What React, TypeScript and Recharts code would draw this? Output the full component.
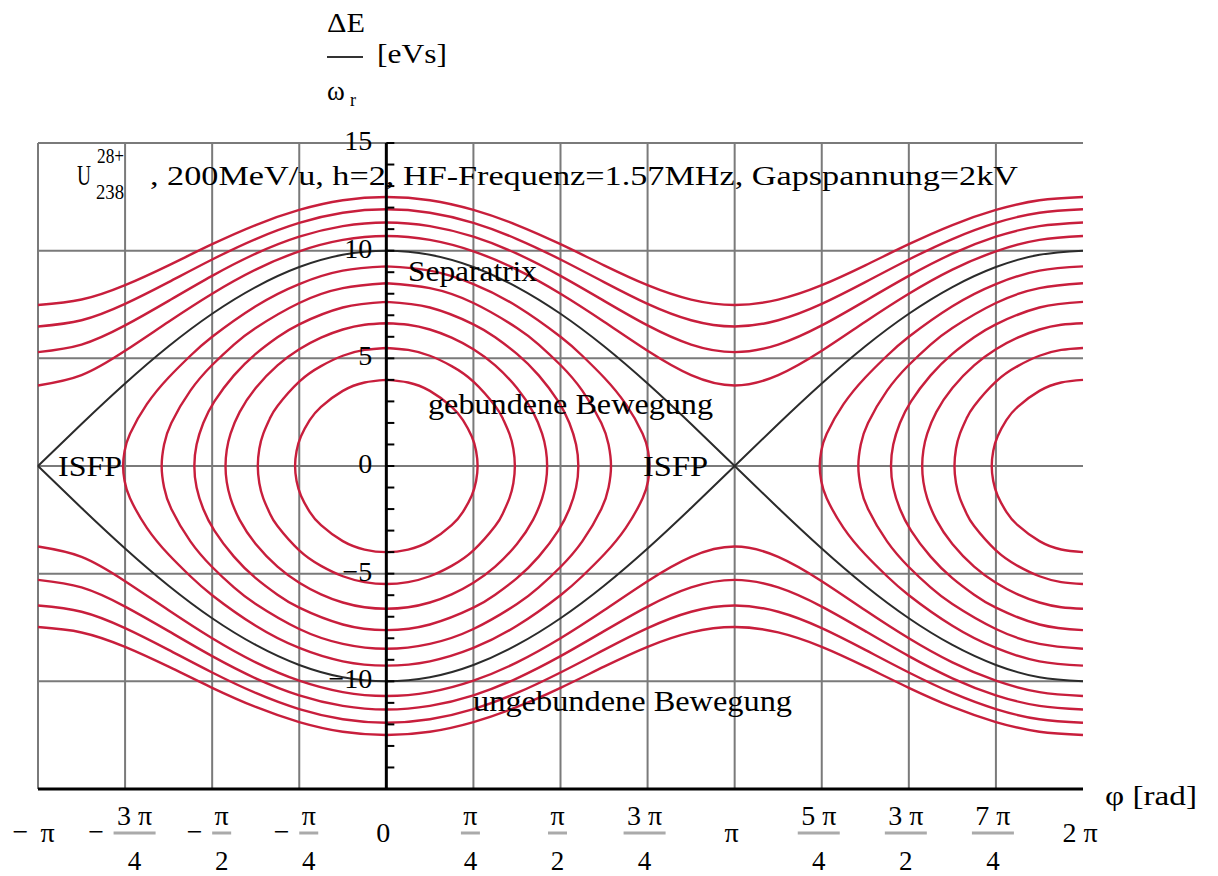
import React from "react"
import { ComposedChart, Line, Scatter, XAxis, YAxis, CartesianGrid, ReferenceLine, ReferenceDot } from "recharts"

// phase axis in units of pi
const phi = [
  -1, -0.875, -0.75, -0.625, -0.5, -0.375, -0.25, -0.125, 0,
  0.125, 0.25, 0.375, 0.5, 0.625, 0.75, 0.875, 1,
  1.125, 1.25, 1.375, 1.5, 1.625, 1.75, 1.875, 2,
]

const separatrix = [0, 1.95, 3.83, 5.56, 7.07, 8.31, 9.24, 9.81, 10, 9.81, 9.24, 8.31, 7.07, 5.56, 3.83, 1.95, 0, -1.95, -3.83, -5.56, -7.07, -8.31, -9.24, -9.81, -10]

// unbound orbits (upper branch), read at phi steps of pi/8
const unbound1 = [3.74, 4.22, 5.35, 6.7, 8.0, 9.12, 9.97, 10.5, 10.68, 10.5, 9.97, 9.12, 8.0, 6.7, 5.35, 4.22, 3.74, 4.22, 5.35, 6.7, 8.0, 9.12, 9.97, 10.5, 10.68]
const unbound2 = [5.29, 5.64, 6.53, 7.67, 8.83, 9.86, 10.65, 11.14, 11.31, 11.14, 10.65, 9.86, 8.83, 7.67, 6.53, 5.64, 5.29, 5.64, 6.53, 7.67, 8.83, 9.86, 10.65, 11.14, 11.31]
const unbound3 = [6.48, 6.77, 7.53, 8.54, 9.59, 10.54, 11.29, 11.76, 11.92, 11.76, 11.29, 10.54, 9.59, 8.54, 7.53, 6.77, 6.48, 6.77, 7.53, 8.54, 9.59, 10.54, 11.29, 11.76, 11.92]
const unbound4 = [7.48, 7.73, 8.4, 9.32, 10.3, 11.19, 11.89, 12.34, 12.49, 12.34, 11.89, 11.19, 10.3, 9.32, 8.4, 7.73, 7.48, 7.73, 8.4, 9.32, 10.3, 11.19, 11.89, 12.34, 12.49]

// bound orbits: one quadrant each, [phi/pi, dE] from the top to the turning point
const ring1 = [[0, 9.27], [0.125, 9.07], [0.25, 8.45], [0.375, 7.42], [0.5, 6.0], [0.5625, 5.12], [0.625, 4.11], [0.6875, 2.87], [0.7358, 1.5], [0.7514, 0.7], [0.7558, 0]]
const ring2 = [[0, 8.49], [0.125, 8.26], [0.25, 7.57], [0.375, 6.41], [0.4375, 5.64], [0.5, 4.69], [0.5625, 3.5], [0.6172, 2.0], [0.638, 1.0], [0.645, 0]]
const ring3 = [[0, 7.62], [0.125, 7.36], [0.25, 6.58], [0.3125, 5.98], [0.375, 5.21], [0.4375, 4.21], [0.4936, 3.0], [0.5255, 2.0], [0.5447, 1.0], [0.5512, 0]]
const ring4 = [[0, 6.63], [0.0625, 6.56], [0.125, 6.34], [0.1875, 5.96], [0.25, 5.42], [0.3125, 4.67], [0.375, 3.62], [0.4212, 2.5], [0.4472, 1.5], [0.4581, 0.75], [0.4617, 0]]
const ring5 = [[0, 5.48], [0.0625, 5.39], [0.125, 5.12], [0.1875, 4.64], [0.25, 3.92], [0.3125, 2.79], [0.3345, 2.2], [0.3532, 1.5], [0.3646, 0.8], [0.369, 0]]
const ring6 = [[0, 4.0], [0.0625, 3.88], [0.125, 3.49], [0.1875, 2.75], [0.22, 2.13], [0.245, 1.38], [0.2577, 0.7], [0.262, 0]]

const xTickValues = [-1, -0.75, -0.5, -0.25, 0, 0.25, 0.5, 0.75, 1, 1.25, 1.5, 1.75, 2]
const xTickLabels = ["−π", "−3 π/4", "−π/2", "−π/4", "0", "π/4", "π/2", "3 π/4", "π", "5 π/4", "3 π/2", "7 π/4", "2 π"]
const gridX = [-1, -0.75, -0.5, -0.25, 0.25, 0.5, 0.75, 1, 1.25, 1.5, 1.75]
const gridY = [-10, -5, 0, 5, 10, 15]
const yTickValues = [-15, -14, -13, -12, -11, -10, -9, -8, -7, -6, -5, -4, -3, -2, -1, 0, 1, 2, 3, 4, 5, 6, 7, 8, 9, 10, 11, 12, 13, 14, 15]
const yLabelValues = [15, 10, 5, 0, -5, -10]
const yLabelTexts = ["15", "10", "5", "0", "−5", "−10"]

const serif = '"Liberation Serif", "Times New Roman", Times, serif'
const RED = "#c81e3c"

const toPoints = (ys: number[]) => phi.map((x, i) => ({ x, y: ys[i] }))
const flip = (ys: number[]) => ys.map((v) => -v)

function fullRing(q: number[][]) {
  const ur = q
  const lr = q.slice(0, -1).reverse().map(([p, e]) => [p, -e])
  const ll = q.slice(1).map(([p, e]) => [-p, -e])
  const ul = q.slice(0, -1).reverse().map(([p, e]) => [-p, e])
  return [...ur, ...lr, ...ll, ...ul].map(([p, e]) => ({ x: p, y: e }))
}

function leftHalfRing(q: number[][], center: number) {
  const upper = q.map(([p, e]) => ({ x: center - p, y: e }))
  const lower = q.slice(0, -1).reverse().map(([p, e]) => ({ x: center - p, y: -e }))
  return [...upper, ...lower]
}

const rings = [ring1, ring2, ring3, ring4, ring5, ring6]
const unbound = [unbound1, unbound2, unbound3, unbound4]

const series: { key: string; data: { x: number; y: number }[] }[] = []
unbound.forEach((u, i) => {
  series.push({ key: "uu" + i, data: toPoints(u) })
  series.push({ key: "ul" + i, data: toPoints(flip(u)) })
})
rings.forEach((r, i) => {
  series.push({ key: "rc" + i, data: fullRing(r) })
  series.push({ key: "rr" + i, data: leftHalfRing(r, 2) })
})

const yTickData = yTickValues.map((y) => ({ x: 0, y }))

const numWidth = (s: string) => s.split("").reduce((w, ch) => w + (ch === " " ? 8 : ch === "π" ? 17 : 15), 0)

function XTick(props: any) {
  const { x, y, payload } = props
  const label = xTickLabels[xTickValues.indexOf(payload.value)]
  if (label === undefined) return null
  const neg = label.startsWith("−")
  const body = neg ? label.slice(1) : label
  const [num, den] = body.split("/")
  const w = numWidth(num)
  const total = (neg ? 25 : 0) + w
  const start = x - 3 - total / 2
  const bx = start + (neg ? 25 : 0) + w / 2
  return (
    <g fontFamily={serif} fontSize={28} fill="#000">
      {neg && (
        <text x={start + 6.5} y={y + 52} textAnchor="middle">−</text>
      )}
      {den ? (
        <>
          <text x={bx} y={y + 36} textAnchor="middle">{num}</text>
          <line x1={bx - w / 2 - 1} x2={bx + w / 2 + 1} y1={y + 44} y2={y + 44} stroke="#aaa" strokeWidth={3} />
          <text x={bx} y={y + 81} fontSize={27} textAnchor="middle">{den}</text>
        </>
      ) : (
        <text x={bx} y={y + 53} textAnchor="middle">{num}</text>
      )}
    </g>
  )
}

function YTick(props: any) {
  const { cx, cy, payload } = props
  const idx = yLabelValues.indexOf(payload.y)
  return (
    <g>
      <line x1={cx} x2={cx + 8} y1={cy} y2={cy} stroke="#000" strokeWidth={2} />
      {idx >= 0 && (
        <text x={cx - 14} y={cy + 7} textAnchor="end" fontFamily={serif} fontSize={28} fill="#000">
          {yLabelTexts[idx]}
        </text>
      )}
    </g>
  )
}

const note = (text: string, width: number) => (p: any) => (
  <text x={p.cx} y={p.cy} fontFamily={serif} fontSize={29} fill="#000" textLength={width} lengthAdjust="spacingAndGlyphs">
    {text}
  </text>
)

export default function App() {
  return (
    <div style={{ position: "absolute", left: 0, top: 0, width: 1218, height: 876, background: "#fff" }}>
      <ComposedChart width={1218} height={876} margin={{ top: 143, right: 135, left: 38, bottom: 0 }}>
        <CartesianGrid horizontalValues={gridY} verticalValues={gridX} stroke="#7a7a7a" strokeWidth={2} strokeDasharray="" />
        <XAxis
          type="number"
          dataKey="x"
          domain={[-1, 2]}
          ticks={xTickValues}
          interval={0}
          height={87}
          tickLine={false}
          tickSize={0}
          tickMargin={0}
          axisLine={{ stroke: "#000", strokeWidth: 3 }}
          tick={(p: any) => <XTick {...p} />}
        />
        <YAxis type="number" dataKey="y" domain={[-15, 15]} hide />
        {series.map((s) => (
          <Line
            key={s.key}
            data={s.data}
            dataKey="y"
            type="natural"
            stroke={RED}
            strokeWidth={2.4}
            dot={false}
            activeDot={false}
            legendType="none"
            isAnimationActive={false}
          />
        ))}
        <Line data={toPoints(separatrix)} dataKey="y" type="natural" stroke="#2b2b2b" strokeWidth={2} dot={false} activeDot={false} isAnimationActive={false} />
        <Line data={toPoints(flip(separatrix))} dataKey="y" type="natural" stroke="#2b2b2b" strokeWidth={2} dot={false} activeDot={false} isAnimationActive={false} />
        <ReferenceLine x={0} stroke="#000" strokeWidth={3} />
        <Scatter data={yTickData} dataKey="y" isAnimationActive={false} shape={(p: any) => <YTick {...p} />} />
        <ReferenceDot x={0.0623} y={8.59} r={0} shape={note("Separatrix", 129)} />
        <ReferenceDot x={0.1197} y={2.41} r={0} shape={note("gebundene Bewegung", 285)} />
        <ReferenceDot x={0.249} y={-11.38} r={0} shape={note("ungebundene Bewegung", 319)} />
        <ReferenceDot x={-0.9425} y={-0.465} r={0} shape={note("ISFP", 64)} />
        <ReferenceDot x={0.7369} y={-0.465} r={0} shape={note("ISFP", 65)} />
      </ComposedChart>
      <svg width={1218} height={876} style={{ position: "absolute", left: 0, top: 0, pointerEvents: "none" }}>
        <g fontFamily={serif} fill="#000">
          <text x={327} y={32} fontSize={27} textLength={38} lengthAdjust="spacingAndGlyphs">ΔE</text>
          <line x1={327} x2={363} y1={57} y2={57} stroke="#333" strokeWidth={2} />
          <text x={377} y={63} fontSize={27} textLength={70} lengthAdjust="spacingAndGlyphs">[eVs]</text>
          <text x={327} y={100} fontSize={27}>ω</text>
          <text x={350} y={106} fontSize={18}>r</text>
          <text x={77} y={185} fontSize={29} textLength={14} lengthAdjust="spacingAndGlyphs">U</text>
          <text x={97} y={163} fontSize={21} textLength={27} lengthAdjust="spacingAndGlyphs">28+</text>
          <text x={96} y={199} fontSize={21} textLength={28} lengthAdjust="spacingAndGlyphs">238</text>
          <text x={150} y={185} fontSize={27} textLength={868} lengthAdjust="spacingAndGlyphs">
            , 200MeV/u, h=2, HF-Frequenz=1.57MHz, Gapspannung=2kV
          </text>
          <text x={1105} y={805} fontSize={28} textLength={92} lengthAdjust="spacingAndGlyphs">φ [rad]</text>
        </g>
      </svg>
    </div>
  )
}
